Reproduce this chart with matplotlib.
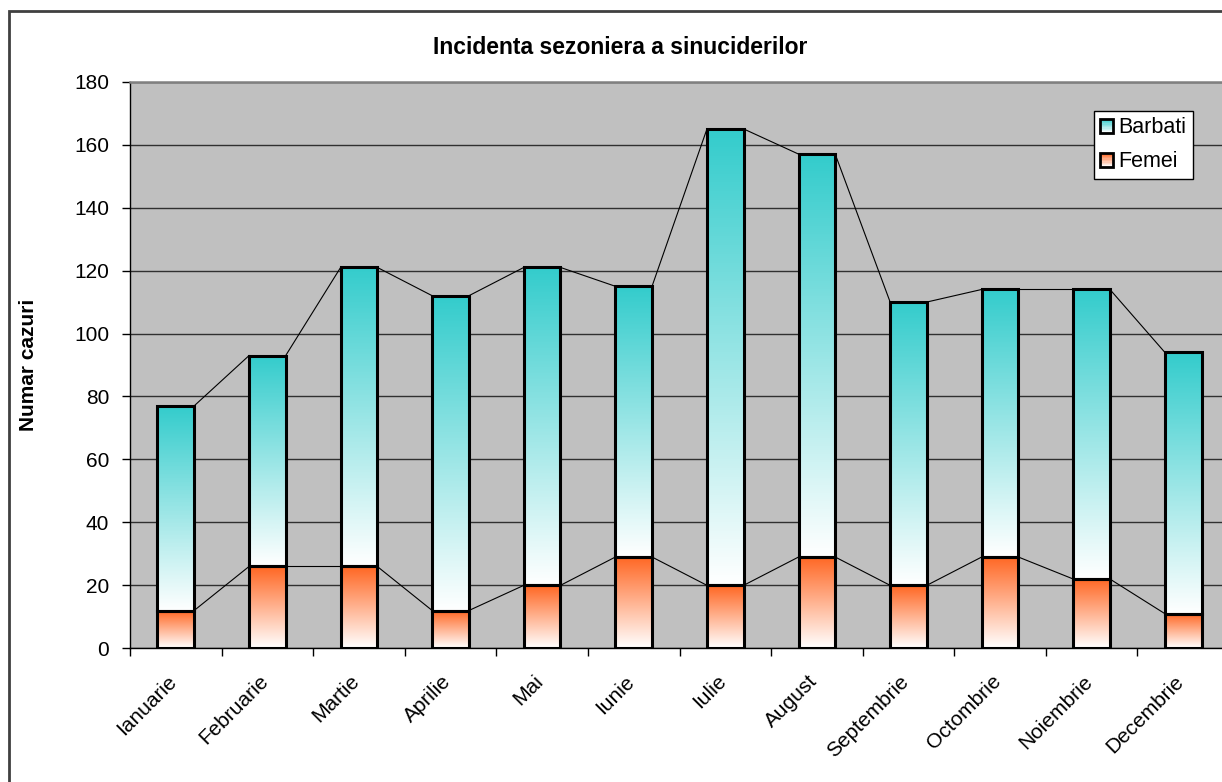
import numpy as np
import matplotlib.pyplot as plt
from matplotlib.patches import Rectangle
from matplotlib.legend_handler import HandlerBase
from matplotlib.colors import to_rgb
from matplotlib.transforms import ScaledTranslation

plt.rcParams['font.family'] = ['Liberation Sans', 'DejaVu Sans']

# Monthly counts
months = ['Ianuarie', 'Februarie', 'Martie', 'Aprilie', 'Mai', 'Iunie',
          'Iulie', 'August', 'Septembrie', 'Octombrie', 'Noiembrie', 'Decembrie']
femei = [12, 26, 26, 12, 20, 29, 20, 29, 20, 29, 22, 11]
barbati = [65, 67, 95, 100, 101, 86, 145, 128, 90, 85, 92, 83]

TEAL = '#33CCCC'
ORANGE = '#FF6622'
BAR_W = 0.40

W, H = 1222, 782
fig = plt.figure(figsize=(W/100, H/100), dpi=100)
ax = fig.add_axes([130/W, (H-648.3)/H, 1099/W, (648.3-81.7)/H])
ax.set_facecolor('#C0C0C0')


def gradient(c):
    # vertical ramp: white at the bottom, full colour at the top
    c = np.array(to_rgb(c))
    t = np.linspace(0, 1, 256)[:, None]
    img = (1 - t) * np.ones(3) + t * c
    return img[:, None, :]


x = np.arange(len(months))
femei = np.array(femei)
barbati = np.array(barbati)
total = femei + barbati

for i in x:
    for bottom, top, col in [(0, femei[i], ORANGE), (femei[i], total[i], TEAL)]:
        ax.imshow(gradient(col), extent=(i - BAR_W/2, i + BAR_W/2, bottom, top),
                  origin='lower', aspect='auto', zorder=2, interpolation='bilinear')
ax.bar(x, femei, BAR_W, facecolor='none', edgecolor='black', lw=2.2, zorder=3)
ax.bar(x, barbati, BAR_W, bottom=femei, facecolor='none', edgecolor='black', lw=2.2, zorder=3)

# series lines between bar tops
for tops in (femei, total):
    for i in range(len(x) - 1):
        ax.plot([x[i] + BAR_W/2, x[i+1] - BAR_W/2], [tops[i], tops[i+1]],
                color='black', lw=0.8, zorder=2.5)

ax.set_xlim(-0.5, 11.5)
ax.set_ylim(0, 180)
ax.set_yticks(np.arange(0, 181, 20))
ax.yaxis.grid(True, color='#303030', lw=1)
ax.set_axisbelow(True)
ax.tick_params(axis='y', direction='out', length=6, width=1, labelsize=15, pad=9)

ax.set_xticks(x)
ax.set_xticklabels(months, rotation=45, ha='right', rotation_mode='anchor', fontsize=15)
ax.set_xticks(np.arange(-0.5, 12, 1), minor=True)
ax.tick_params(axis='x', which='major', length=0, pad=14)
ax.tick_params(axis='x', which='minor', direction='out', length=6, width=1)
shift = ScaledTranslation(-9/100, -4/100, fig.dpi_scale_trans)
for lbl in ax.get_xticklabels():
    lbl.set_transform(lbl.get_transform() + shift)

for s in ('left', 'bottom'):
    ax.spines[s].set_color('black')
    ax.spines[s].set_linewidth(1)
ax.spines['top'].set_color('#808080')
ax.spines['top'].set_linewidth(1.8)
ax.spines['right'].set_visible(False)

fig.text(620/W, 1 - 48/H, 'Incidenta sezoniera a sinuciderilor', ha='center', va='center',
         fontsize=16.5, fontweight='bold')
fig.text(29/W, 1 - 365/H, 'Numar cazuri', rotation=90, ha='center', va='center',
         fontsize=15, fontweight='bold')


class GradHandler(HandlerBase):
    def __init__(self, color):
        super().__init__()
        self.color = np.array(to_rgb(color))

    def create_artists(self, legend, orig_handle, xdescent, ydescent, width, height, fontsize, trans):
        arts = []
        n = 10
        for k in range(n):
            f = (k + 0.5) / n
            c = (1 - f) * np.ones(3) + f * self.color
            arts.append(Rectangle((-xdescent, -ydescent + height * k / n), width, height / n,
                                  facecolor=c, edgecolor='none', transform=trans))
        arts.append(Rectangle((-xdescent, -ydescent), width, height, fill=False,
                              edgecolor='black', lw=2, transform=trans))
        return arts


h_b = Rectangle((0, 0), 1, 1)
h_f = Rectangle((0, 0), 1, 1)
leg = fig.legend([h_b, h_f], ['Barbati', 'Femei'], loc='upper right',
                 bbox_to_anchor=(1193/W, 1 - 111/H), bbox_transform=fig.transFigure,
                 handler_map={h_b: GradHandler(TEAL), h_f: GradHandler(ORANGE)},
                 fontsize=15.5, frameon=True, fancybox=False, borderaxespad=0,
                 handlelength=0.6, handleheight=0.6, handletextpad=0.25,
                 labelspacing=0.6, borderpad=0.3)
leg.get_frame().set_edgecolor('black')
leg.get_frame().set_linewidth(1)
leg.get_frame().set_facecolor('white')
leg.get_frame().set_alpha(1)

# chart frame
fig.add_artist(Rectangle((8.7/W, -0.5), 2, 1.5 - 10.7/H, transform=fig.transFigure,
                         fill=False, edgecolor='#404040', lw=2))

fig.savefig('out.png', dpi=100)
